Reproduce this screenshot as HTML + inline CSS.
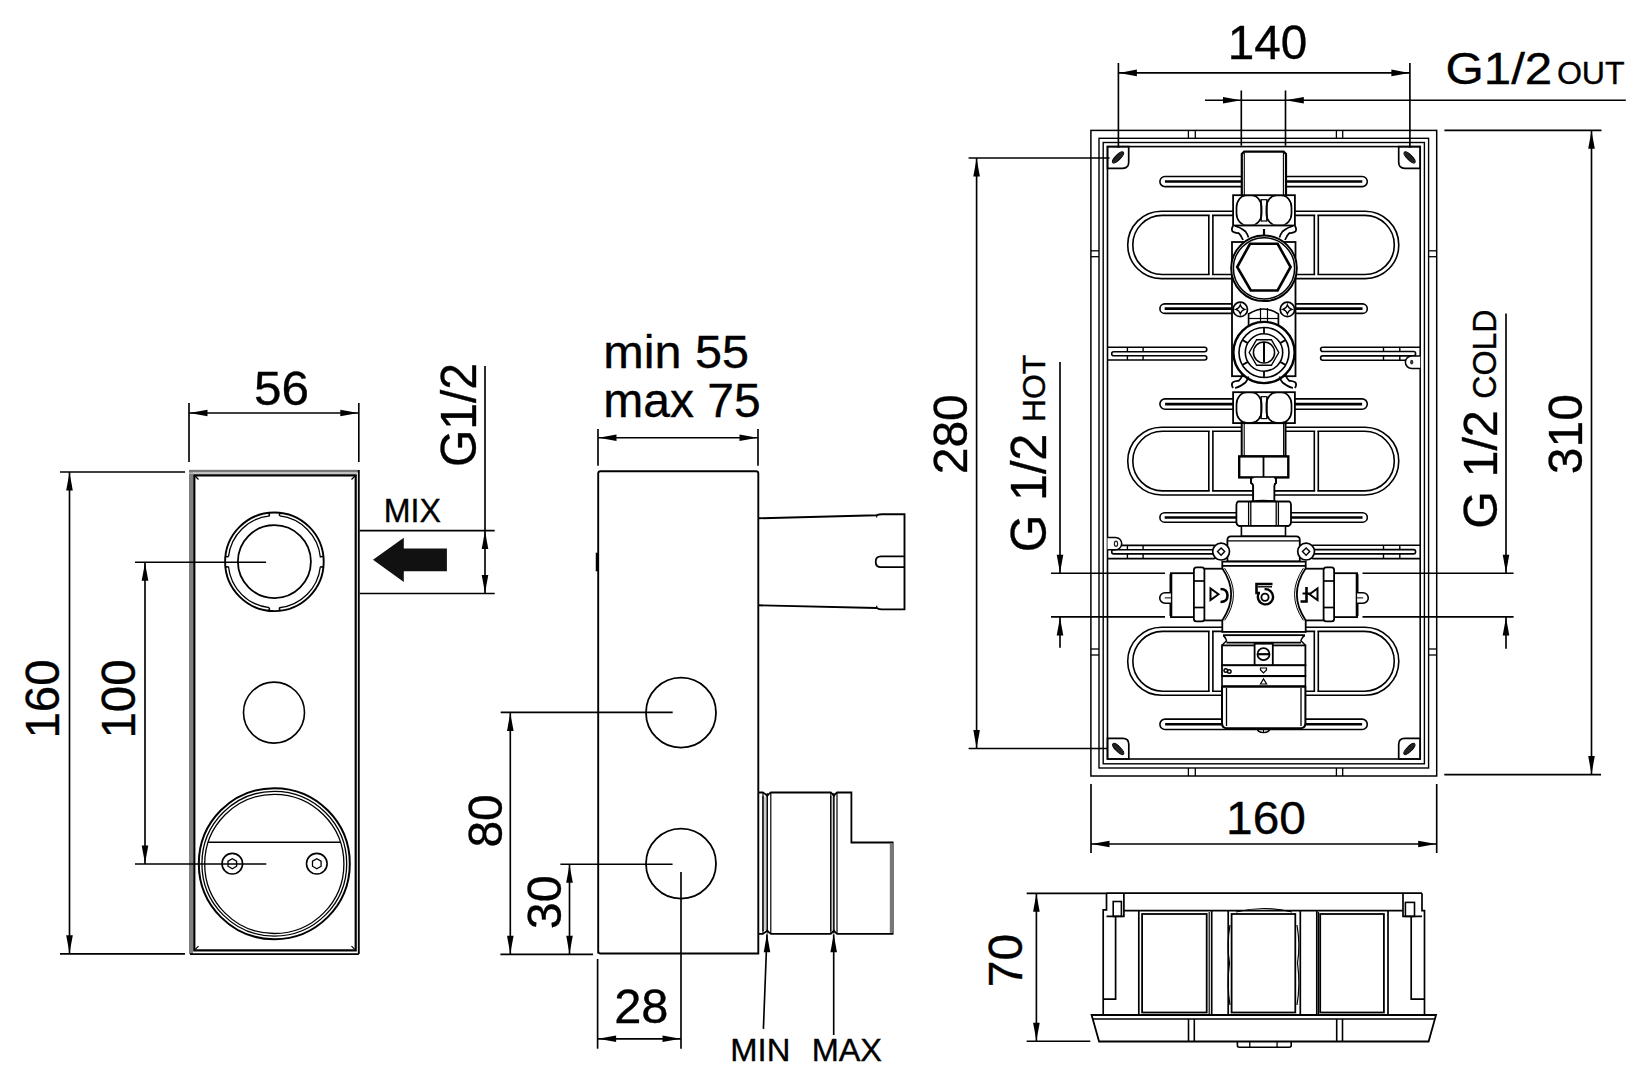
<!DOCTYPE html>
<html><head><meta charset="utf-8"><style>
html,body{margin:0;padding:0;background:#fff;}
svg{display:block;}
text{font-family:"Liberation Sans", sans-serif;fill:#000;stroke:#000;stroke-width:0.35px;}
</style></head><body>
<svg width="1650" height="1087" viewBox="0 0 1650 1087">
<rect x="0" y="0" width="1650" height="1087" fill="#fff"/>
<rect x="189" y="470" width="4" height="484" fill="#808080"/>
<rect x="189" y="469.8" width="169" height="2.6" fill="#777"/>
<rect x="189" y="472.4" width="168" height="1.5" fill="#bbb"/>
<path d="M194.3,475.3 H355.7 V950.4 H194.3 Z" fill="none" stroke="#000" stroke-width="2.2" />
<line x1="358.8" y1="470" x2="358.8" y2="954.1" stroke="#000" stroke-width="1.9"/>
<line x1="190" y1="954.1" x2="358.8" y2="954.1" stroke="#000" stroke-width="1.6"/>
<line x1="194.5" y1="475.5" x2="198.5" y2="479.5" stroke="#000" stroke-width="1.2"/>
<line x1="355.5" y1="475.5" x2="351.5" y2="479.5" stroke="#000" stroke-width="1.2"/>
<line x1="194.5" y1="950.2" x2="198.5" y2="946.2" stroke="#000" stroke-width="1.2"/>
<line x1="355.5" y1="950.2" x2="351.5" y2="946.2" stroke="#000" stroke-width="1.2"/>
<circle cx="274.4" cy="561.8" r="49.3" fill="none" stroke="#000" stroke-width="1.9"/>
<circle cx="274.4" cy="561.8" r="46.2" fill="none" stroke="#000" stroke-width="1.3" stroke-dasharray="62.57 10" stroke-dashoffset="67.57"/>
<circle cx="274.4" cy="561.6" r="36.5" fill="none" stroke="#000" stroke-width="1.8"/>
<line x1="320.329774535521" y1="556.8104297663817" x2="323.4116425238351" y2="556.4756317636931" stroke="#000" stroke-width="1.6"/>
<line x1="320.329774535521" y1="566.7895702336182" x2="323.4116425238351" y2="567.1243682363069" stroke="#000" stroke-width="1.6"/>
<line x1="279.38957023361826" y1="607.729774535521" x2="279.72436823630693" y2="610.8116425238351" stroke="#000" stroke-width="1.6"/>
<line x1="269.4104297663817" y1="607.729774535521" x2="269.075631763693" y2="610.8116425238351" stroke="#000" stroke-width="1.6"/>
<line x1="228.470225464479" y1="566.7895702336182" x2="225.38835747616483" y2="567.1243682363069" stroke="#000" stroke-width="1.6"/>
<line x1="228.470225464479" y1="556.8104297663817" x2="225.38835747616483" y2="556.4756317636931" stroke="#000" stroke-width="1.6"/>
<line x1="269.41042976638175" y1="515.870225464479" x2="269.0756317636931" y2="512.7883574761648" stroke="#000" stroke-width="1.6"/>
<line x1="279.3895702336182" y1="515.870225464479" x2="279.7243682363069" y2="512.7883574761648" stroke="#000" stroke-width="1.6"/>
<circle cx="274" cy="712.6" r="30.5" fill="none" stroke="#000" stroke-width="1.6"/>
<circle cx="274.3" cy="863.7" r="75.5" fill="none" stroke="#000" stroke-width="2"/>
<circle cx="274.3" cy="863.7" r="72.4" fill="none" stroke="#000" stroke-width="1.3"/>
<circle cx="274.3" cy="863.9" r="69.6" fill="none" stroke="#000" stroke-width="1.3"/>
<line x1="208" y1="842.2" x2="341" y2="842.2" stroke="#000" stroke-width="1.6"/>
<circle cx="232.3" cy="863.7" r="10.3" fill="none" stroke="#000" stroke-width="1.6"/>
<polygon points="236.6,866.2 232.3,868.7 228.0,866.2 228.0,861.2 232.3,858.7 236.6,861.2" fill="none" stroke="#000" stroke-width="1.3"/>
<circle cx="316.8" cy="863.7" r="10.3" fill="none" stroke="#000" stroke-width="1.6"/>
<polygon points="321.1,866.2 316.8,868.7 312.5,866.2 312.5,861.2 316.8,858.7 321.1,861.2" fill="none" stroke="#000" stroke-width="1.3"/>
<line x1="189" y1="403" x2="189" y2="462" stroke="#000" stroke-width="1.65"/>
<line x1="358.8" y1="403" x2="358.8" y2="462" stroke="#000" stroke-width="1.65"/>
<line x1="189" y1="413" x2="358.8" y2="413" stroke="#000" stroke-width="1.65"/>
<polygon points="189.5,413.0 207.5,409.7 207.5,416.3" fill="#000"/>
<polygon points="358.3,413.0 340.3,409.7 340.3,416.3" fill="#000"/>
<text transform="translate(254.02,404.52) scale(1.014,1)" font-size="48.73">56</text>
<line x1="60" y1="472" x2="185" y2="472" stroke="#000" stroke-width="1.65"/>
<line x1="60" y1="953.8" x2="185" y2="953.8" stroke="#000" stroke-width="1.65"/>
<line x1="69.5" y1="472" x2="69.5" y2="953.8" stroke="#000" stroke-width="1.65"/>
<polygon points="69.5,472.5 66.2,490.5 72.8,490.5" fill="#000"/>
<polygon points="69.5,953.3 66.2,935.3 72.8,935.3" fill="#000"/>
<text transform="translate(59.43,738.50) rotate(-90) scale(0.977,1)" font-size="48.45">160</text>
<line x1="135" y1="562.2" x2="266.1" y2="562.2" stroke="#000" stroke-width="1.65"/>
<line x1="135" y1="864" x2="266.3" y2="864" stroke="#000" stroke-width="1.65"/>
<line x1="145" y1="562.2" x2="145" y2="864" stroke="#000" stroke-width="1.65"/>
<polygon points="145.0,562.7 141.7,580.7 148.3,580.7" fill="#000"/>
<polygon points="145.0,863.5 141.7,845.5 148.3,845.5" fill="#000"/>
<text transform="translate(134.83,738.50) rotate(-90) scale(0.977,1)" font-size="48.45">100</text>
<line x1="359.6" y1="530.6" x2="494.7" y2="530.6" stroke="#000" stroke-width="1.65"/>
<line x1="359.6" y1="593.5" x2="494.7" y2="593.5" stroke="#000" stroke-width="1.65"/>
<line x1="485" y1="366" x2="485" y2="593.5" stroke="#000" stroke-width="1.65"/>
<polygon points="485.0,531.0 481.7,531.0 488.3,531.0" fill="#000"/>
<polygon points="485.0,531.0 481.7,549.0 488.3,549.0" fill="#000"/>
<polygon points="485.0,593.0 481.7,575.0 488.3,575.0" fill="#000"/>
<text transform="translate(476.02,466.91) rotate(-90) scale(0.969,1)" font-size="49.43">G1/2</text>
<text transform="translate(383.66,521.70) scale(0.984,1)" font-size="32.70">MIX</text>
<polygon points="373,559.8 403.8,537.8 403.8,548.6 446.9,548.6 446.9,571.3 403.8,571.3 403.8,582" fill="#111"/>
<path d="M598.2,953.5 V473.5 Q598.2,471.3 600.5,471.3 H756 Q758.3,471.3 758.3,473.5 V953.5 H600.5 Q598.2,953.5 598.2,951" fill="none" stroke="#000" stroke-width="1.9" />
<line x1="597" y1="552.7" x2="597" y2="571.3" stroke="#000" stroke-width="2.5"/>
<path d="M758.3,518.3 L876.7,515.2 Q879,514.2 882,514.2 H904.5 V609.4 H882 Q879,609.4 876.7,608 L758.3,605.3" fill="none" stroke="#000" stroke-width="1.9" />
<line x1="876.7" y1="515.2" x2="876.7" y2="517.5" stroke="#000" stroke-width="1.2"/>
<line x1="876.7" y1="608" x2="876.7" y2="605.7" stroke="#000" stroke-width="1.2"/>
<path d="M904.5,556.4 H881 Q875.7,556.4 875.7,561.7 Q875.7,567.1 881,567.1 H904.5" fill="none" stroke="#000" stroke-width="1.8" />
<circle cx="681" cy="712.7" r="35" fill="none" stroke="#000" stroke-width="1.8"/>
<circle cx="681" cy="863.7" r="35" fill="none" stroke="#000" stroke-width="1.8"/>
<path d="M758.4,792.5 H763 Q765,793.5 767.2,796 Q769,793.5 770.8,792.5 H830.8 Q832.3,793.5 833.8,796 Q835.5,793.5 837,792.5 H851.4 V842.5 H892.6 V933.8 H837 Q835.5,932.8 833.8,930.5 Q832.3,932.8 830.8,933.8 H770.8 Q769,932.8 767.2,930.5 Q765,932.8 763,933.8 H758.4" fill="none" stroke="#000" stroke-width="1.8" />
<line x1="763" y1="793" x2="763" y2="933.5" stroke="#000" stroke-width="1.2"/>
<line x1="767.2" y1="793" x2="767.2" y2="933.5" stroke="#000" stroke-width="1.2"/>
<line x1="770.8" y1="793" x2="770.8" y2="933.5" stroke="#000" stroke-width="1.2"/>
<line x1="830.8" y1="793" x2="830.8" y2="933.5" stroke="#000" stroke-width="1.2"/>
<line x1="833.8" y1="793" x2="833.8" y2="933.5" stroke="#000" stroke-width="1.2"/>
<line x1="837" y1="793" x2="837" y2="933.5" stroke="#000" stroke-width="1.2"/>
<rect x="889.8" y="843.2" width="4.2" height="89.6" fill="#777"/>
<rect x="763.6" y="797" width="3" height="133" fill="#ccc"/>
<rect x="831.4" y="797" width="2" height="133" fill="#ccc"/>
<line x1="763" y1="796" x2="763" y2="931" stroke="#000" stroke-width="1.2"/>
<line x1="767.2" y1="796" x2="767.2" y2="931" stroke="#000" stroke-width="1.2"/>
<line x1="830.8" y1="796" x2="830.8" y2="931" stroke="#000" stroke-width="1.2"/>
<line x1="833.8" y1="796" x2="833.8" y2="931" stroke="#000" stroke-width="1.2"/>
<line x1="598" y1="429" x2="598" y2="465.7" stroke="#000" stroke-width="1.65"/>
<line x1="758" y1="429" x2="758" y2="465.7" stroke="#000" stroke-width="1.65"/>
<line x1="598" y1="437.7" x2="758" y2="437.7" stroke="#000" stroke-width="1.65"/>
<polygon points="598.5,437.7 616.5,434.4 616.5,441.0" fill="#000"/>
<polygon points="757.5,437.7 739.5,434.4 739.5,441.0" fill="#000"/>
<text transform="translate(603.28,368.15) scale(1.052,1)" font-size="46.16">min 55</text>
<text transform="translate(603.31,417.44) scale(1.009,1)" font-size="47.58">max 75</text>
<line x1="500.7" y1="712.4" x2="672.7" y2="712.4" stroke="#000" stroke-width="1.65"/>
<line x1="500.4" y1="954.3" x2="593" y2="954.3" stroke="#000" stroke-width="1.65"/>
<line x1="560.4" y1="864.2" x2="672.6" y2="864.2" stroke="#000" stroke-width="1.65"/>
<line x1="510.3" y1="712.4" x2="510.3" y2="954.3" stroke="#000" stroke-width="1.65"/>
<polygon points="510.3,712.9 507.0,730.9 513.6,730.9" fill="#000"/>
<polygon points="510.3,953.8 507.0,935.8 513.6,935.8" fill="#000"/>
<line x1="569.5" y1="864.2" x2="569.5" y2="954.3" stroke="#000" stroke-width="1.65"/>
<polygon points="569.5,864.7 566.2,882.7 572.8,882.7" fill="#000"/>
<polygon points="569.5,953.8 566.2,935.8 572.8,935.8" fill="#000"/>
<text transform="translate(501.52,847.58) rotate(-90) scale(0.977,1)" font-size="49.01">80</text>
<text transform="translate(560.52,929.14) rotate(-90) scale(0.990,1)" font-size="48.87">30</text>
<line x1="681" y1="872" x2="681" y2="1048.7" stroke="#000" stroke-width="1.65"/>
<line x1="597.6" y1="959" x2="597.6" y2="1048.7" stroke="#000" stroke-width="1.65"/>
<line x1="597.6" y1="1038.8" x2="681" y2="1038.8" stroke="#000" stroke-width="1.65"/>
<polygon points="598.1,1038.8 616.1,1035.5 616.1,1042.1" fill="#000"/>
<polygon points="680.5,1038.8 662.5,1035.5 662.5,1042.1" fill="#000"/>
<text transform="translate(614.25,1023.44) scale(1.028,1)" font-size="47.46">28</text>
<line x1="763.4" y1="1028.9" x2="767" y2="934.3" stroke="#000" stroke-width="1.65"/>
<polygon points="767.0,934.3 763.7,952.3 770.3,952.3" fill="#000"/>
<line x1="833.7" y1="1035" x2="833.7" y2="934.3" stroke="#000" stroke-width="1.65"/>
<polygon points="833.7,934.3 830.4,952.3 837.0,952.3" fill="#000"/>
<text transform="translate(730.31,1060.70) scale(1.029,1)" font-size="31.83">MIN</text>
<text transform="translate(811.63,1060.70) scale(1.021,1)" font-size="31.83">MAX</text>
<rect x="1090.9" y="130.4" width="345.8" height="645.6" rx="0" fill="none" stroke="#000" stroke-width="1.5"/>
<rect x="1099" y="138.3" width="329.6" height="629.7" rx="0" fill="none" stroke="#000" stroke-width="1.4"/>
<rect x="1103.2" y="142.5" width="321.2" height="621.3" rx="0" fill="none" stroke="#000" stroke-width="1.4"/>
<rect x="1107.5" y="146.6" width="312.7" height="612.4" rx="0" fill="none" stroke="#000" stroke-width="1.6"/>
<line x1="1188.4" y1="130.4" x2="1188.4" y2="138.3" stroke="#000" stroke-width="1.3"/>
<line x1="1188.4" y1="768" x2="1188.4" y2="776" stroke="#000" stroke-width="1.3"/>
<line x1="1195.3" y1="130.4" x2="1195.3" y2="138.3" stroke="#000" stroke-width="1.3"/>
<line x1="1195.3" y1="768" x2="1195.3" y2="776" stroke="#000" stroke-width="1.3"/>
<line x1="1336.4" y1="130.4" x2="1336.4" y2="138.3" stroke="#000" stroke-width="1.3"/>
<line x1="1336.4" y1="768" x2="1336.4" y2="776" stroke="#000" stroke-width="1.3"/>
<line x1="1342.7" y1="130.4" x2="1342.7" y2="138.3" stroke="#000" stroke-width="1.3"/>
<line x1="1342.7" y1="768" x2="1342.7" y2="776" stroke="#000" stroke-width="1.3"/>
<line x1="1090.9" y1="250.8" x2="1099" y2="250.8" stroke="#000" stroke-width="1.3"/>
<line x1="1428.6" y1="250.8" x2="1436.7" y2="250.8" stroke="#000" stroke-width="1.3"/>
<line x1="1090.9" y1="256.7" x2="1099" y2="256.7" stroke="#000" stroke-width="1.3"/>
<line x1="1428.6" y1="256.7" x2="1436.7" y2="256.7" stroke="#000" stroke-width="1.3"/>
<line x1="1090.9" y1="649" x2="1099" y2="649" stroke="#000" stroke-width="1.3"/>
<line x1="1428.6" y1="649" x2="1436.7" y2="649" stroke="#000" stroke-width="1.3"/>
<line x1="1090.9" y1="655" x2="1099" y2="655" stroke="#000" stroke-width="1.3"/>
<line x1="1428.6" y1="655" x2="1436.7" y2="655" stroke="#000" stroke-width="1.3"/>
<path d="M1107.5,146.6 H1128.7 V162.3 Q1128.7,168.3 1122.7,168.3 H1107.5 Z" fill="none" stroke="#000" stroke-width="1.7" />
<ellipse cx="1118" cy="157.3" rx="7.4" ry="2.5" transform="rotate(-45 1118 157.3)" fill="#222" stroke="#000" stroke-width="1"/>
<path d="M1398.7,146.6 H1420.2 V168.3 H1404.7 Q1398.7,168.3 1398.7,162.3 Z" fill="none" stroke="#000" stroke-width="1.7" />
<ellipse cx="1409.6" cy="157.3" rx="7.4" ry="2.5" transform="rotate(45 1409.6 157.3)" fill="#222" stroke="#000" stroke-width="1"/>
<path d="M1107.5,738.4 H1122.8 Q1128.8,738.4 1128.8,744.4 V759 H1107.5 Z" fill="none" stroke="#000" stroke-width="1.7" />
<ellipse cx="1118.2" cy="749" rx="7.4" ry="2.5" transform="rotate(45 1118.2 749)" fill="#222" stroke="#000" stroke-width="1"/>
<path d="M1404.7,738.4 H1420.2 V759 H1398.7 V744.4 Q1398.7,738.4 1404.7,738.4 Z" fill="none" stroke="#000" stroke-width="1.7" />
<ellipse cx="1409.4" cy="749" rx="7.4" ry="2.5" transform="rotate(-45 1409.4 749)" fill="#222" stroke="#000" stroke-width="1"/>
<path d="M1161.3500000000001,211.3 H1365.1499999999999 A33.650000000000006,33.650000000000006 0 0 1 1365.1499999999999,278.6 H1161.3500000000001 A33.650000000000006,33.650000000000006 0 0 1 1161.3500000000001,211.3 Z" fill="none" stroke="#000" stroke-width="1.6" />
<path d="M1162.35,215.4 H1364.75 A29.549999999999997,29.549999999999997 0 0 1 1364.75,274.5 H1162.35 A29.549999999999997,29.549999999999997 0 0 1 1162.35,215.4 Z" fill="none" stroke="#000" stroke-width="1.6" />
<rect x="1209.7" y="213.9" width="2.3000000000001366" height="62.099999999999994" fill="#fff"/>
<line x1="1208.8" y1="215.4" x2="1208.8" y2="274.5" stroke="#000" stroke-width="1.6"/>
<line x1="1212.9" y1="215.4" x2="1212.9" y2="274.5" stroke="#000" stroke-width="1.6"/>
<rect x="1315.2" y="213.9" width="2.2" height="62.099999999999994" fill="#fff"/>
<line x1="1314.3" y1="215.4" x2="1314.3" y2="274.5" stroke="#000" stroke-width="1.6"/>
<line x1="1318.3" y1="215.4" x2="1318.3" y2="274.5" stroke="#000" stroke-width="1.6"/>
<path d="M1161.6000000000001,427.2 H1364.8999999999999 A33.900000000000006,33.900000000000006 0 0 1 1364.8999999999999,495.0 H1161.6000000000001 A33.900000000000006,33.900000000000006 0 0 1 1161.6000000000001,427.2 Z" fill="none" stroke="#000" stroke-width="1.6" />
<path d="M1162.6,431.3 H1364.5 A29.799999999999983,29.799999999999983 0 0 1 1364.5,490.9 H1162.6 A29.799999999999983,29.799999999999983 0 0 1 1162.6,431.3 Z" fill="none" stroke="#000" stroke-width="1.6" />
<rect x="1209.7" y="429.8" width="2.3000000000001366" height="62.599999999999966" fill="#fff"/>
<line x1="1208.8" y1="431.3" x2="1208.8" y2="490.9" stroke="#000" stroke-width="1.6"/>
<line x1="1212.9" y1="431.3" x2="1212.9" y2="490.9" stroke="#000" stroke-width="1.6"/>
<rect x="1315.2" y="429.8" width="2.2" height="62.599999999999966" fill="#fff"/>
<line x1="1314.3" y1="431.3" x2="1314.3" y2="490.9" stroke="#000" stroke-width="1.6"/>
<line x1="1318.3" y1="431.3" x2="1318.3" y2="490.9" stroke="#000" stroke-width="1.6"/>
<path d="M1161.7,627.3 H1364.8 A34.0,34.0 0 0 1 1364.8,695.3 H1161.7 A34.0,34.0 0 0 1 1161.7,627.3 Z" fill="none" stroke="#000" stroke-width="1.6" />
<path d="M1162.6999999999998,631.4 H1364.4 A29.899999999999977,29.899999999999977 0 0 1 1364.4,691.1999999999999 H1162.6999999999998 A29.899999999999977,29.899999999999977 0 0 1 1162.6999999999998,631.4 Z" fill="none" stroke="#000" stroke-width="1.6" />
<rect x="1209.7" y="629.9" width="2.3000000000001366" height="62.799999999999955" fill="#fff"/>
<line x1="1208.8" y1="631.4" x2="1208.8" y2="691.1999999999999" stroke="#000" stroke-width="1.6"/>
<line x1="1212.9" y1="631.4" x2="1212.9" y2="691.1999999999999" stroke="#000" stroke-width="1.6"/>
<rect x="1315.2" y="629.9" width="2.2" height="62.799999999999955" fill="#fff"/>
<line x1="1314.3" y1="631.4" x2="1314.3" y2="691.1999999999999" stroke="#000" stroke-width="1.6"/>
<line x1="1318.3" y1="631.4" x2="1318.3" y2="691.1999999999999" stroke="#000" stroke-width="1.6"/>
<path d="M1164.95,176.5 H1362.25 A5.049999999999997,5.049999999999997 0 0 1 1362.25,186.6 H1164.95 A5.049999999999997,5.049999999999997 0 0 1 1164.95,176.5 Z" fill="none" stroke="#000" stroke-width="1.6" />
<line x1="1164.95" y1="181.55" x2="1362.25" y2="181.55" stroke="#000" stroke-width="2.6"/>
<path d="M1164.65,303.9 H1362.55 A4.75,4.75 0 0 1 1362.55,313.4 H1164.65 A4.75,4.75 0 0 1 1164.65,303.9 Z" fill="none" stroke="#000" stroke-width="1.6" />
<line x1="1164.65" y1="308.65" x2="1362.55" y2="308.65" stroke="#000" stroke-width="2.6"/>
<path d="M1165.1000000000001,398.9 H1362.1 A5.200000000000017,5.200000000000017 0 0 1 1362.1,409.3 H1165.1000000000001 A5.200000000000017,5.200000000000017 0 0 1 1165.1000000000001,398.9 Z" fill="none" stroke="#000" stroke-width="1.6" />
<line x1="1165.1000000000001" y1="404.1" x2="1362.1" y2="404.1" stroke="#000" stroke-width="2.6"/>
<path d="M1164.65,512.7 H1362.55 A4.75,4.75 0 0 1 1362.55,522.2 H1164.65 A4.75,4.75 0 0 1 1164.65,512.7 Z" fill="none" stroke="#000" stroke-width="1.6" />
<line x1="1164.65" y1="517.45" x2="1362.55" y2="517.45" stroke="#000" stroke-width="2.6"/>
<path d="M1165.1000000000001,719.1 H1362.1 A5.199999999999989,5.199999999999989 0 0 1 1362.1,729.5 H1165.1000000000001 A5.199999999999989,5.199999999999989 0 0 1 1165.1000000000001,719.1 Z" fill="none" stroke="#000" stroke-width="1.6" />
<line x1="1165.1000000000001" y1="724.3" x2="1362.1" y2="724.3" stroke="#000" stroke-width="2.6"/>
<path d="M1107.5,347.2 H1204.55 A2.25,2.25 0 0 1 1204.55,351.7 H1113.7 Q1111.7,351.7 1111.7,353.7 Q1111.7,355.7 1113.7,355.7 H1204.6499999999999 A2.1500000000000057,2.1500000000000057 0 0 1 1204.6499999999999,360.0 H1107.5" fill="none" stroke="#000" stroke-width="1.6" />
<line x1="1127.4" y1="347.2" x2="1127.4" y2="351.7" stroke="#000" stroke-width="1.4"/>
<line x1="1127.4" y1="355.7" x2="1127.4" y2="360.0" stroke="#000" stroke-width="1.4"/>
<line x1="1143.1" y1="347.2" x2="1143.1" y2="351.7" stroke="#000" stroke-width="1.4"/>
<line x1="1143.1" y1="355.7" x2="1143.1" y2="360.0" stroke="#000" stroke-width="1.4"/>
<path d="M1420.2,347.2 H1322.75 A2.1500000000000057,2.1500000000000057 0 0 0 1322.75,351.5 H1413.6 Q1415.6,351.5 1415.6,353.7 Q1415.6,355.9 1413.6,355.9 H1322.75 A2.1500000000000057,2.1500000000000057 0 0 0 1322.75,360.2 H1420.2" fill="none" stroke="#000" stroke-width="1.6" />
<line x1="1383.5" y1="347.2" x2="1383.5" y2="351.5" stroke="#000" stroke-width="1.4"/>
<line x1="1383.5" y1="355.9" x2="1383.5" y2="360.2" stroke="#000" stroke-width="1.4"/>
<line x1="1399.8" y1="347.2" x2="1399.8" y2="351.5" stroke="#000" stroke-width="1.4"/>
<line x1="1399.8" y1="355.9" x2="1399.8" y2="360.2" stroke="#000" stroke-width="1.4"/>
<path d="M1107.5,545.4 H1213.85 A2.150000000000034,2.150000000000034 0 0 1 1213.85,549.7 H1113.7 Q1111.7,549.7 1111.7,551.8 Q1111.7,553.9 1113.7,553.9 H1213.65 A2.3500000000000227,2.3500000000000227 0 0 1 1213.65,558.6 H1107.5" fill="none" stroke="#000" stroke-width="1.6" />
<line x1="1127.4" y1="545.4" x2="1127.4" y2="549.7" stroke="#000" stroke-width="1.4"/>
<line x1="1127.4" y1="553.9" x2="1127.4" y2="558.6" stroke="#000" stroke-width="1.4"/>
<line x1="1143.1" y1="545.4" x2="1143.1" y2="549.7" stroke="#000" stroke-width="1.4"/>
<line x1="1143.1" y1="553.9" x2="1143.1" y2="558.6" stroke="#000" stroke-width="1.4"/>
<path d="M1420.2,545.2 H1313.2 A2.1999999999999886,2.1999999999999886 0 0 0 1313.2,549.6 H1413.6 Q1415.6,549.6 1415.6,551.75 Q1415.6,553.9 1413.6,553.9 H1313.35 A2.3500000000000227,2.3500000000000227 0 0 0 1313.35,558.6 H1420.2" fill="none" stroke="#000" stroke-width="1.6" />
<line x1="1383.5" y1="545.2" x2="1383.5" y2="549.6" stroke="#000" stroke-width="1.4"/>
<line x1="1383.5" y1="553.9" x2="1383.5" y2="558.6" stroke="#000" stroke-width="1.4"/>
<line x1="1399.8" y1="545.2" x2="1399.8" y2="549.6" stroke="#000" stroke-width="1.4"/>
<line x1="1399.8" y1="553.9" x2="1399.8" y2="558.6" stroke="#000" stroke-width="1.4"/>
<path d="M1420.2,355.9 H1411.7 A6.3,6.3 0 0 0 1411.7,368.5 H1420.2" fill="#fff" stroke="#000" stroke-width="1.5" />
<ellipse cx="1411.7" cy="362.2" rx="1.6" ry="2.4" fill="#333"/>
<path d="M1107.5,537.4 H1115.5 A6.2,6.2 0 0 1 1115.5,549.8 H1107.5" fill="#fff" stroke="#000" stroke-width="1.5" />
<ellipse cx="1116" cy="543.8" rx="1.6" ry="2.6" fill="none" stroke="#222" stroke-width="1.2"/>
<path d="M1241.8,196 V154 L1244.2,151.6 H1283.6 L1286,154 V196" fill="#fff" stroke="#000" stroke-width="2.2" />
<line x1="1244.3" y1="153" x2="1244.3" y2="195" stroke="#000" stroke-width="1.1"/>
<line x1="1283.4" y1="153" x2="1283.4" y2="195" stroke="#000" stroke-width="1.1"/>
<rect x="1233.1" y="195.2" width="61.80000000000018" height="30.30000000000001" rx="0" fill="#fff" stroke="#000" stroke-width="1.8"/>
<clipPath id="cl195"><rect x="1233.1" y="196.0" width="61.80000000000018" height="28.70000000000001"/></clipPath>
<g clip-path="url(#cl195)"><rect x="1236.5" y="195.5" width="25.1" height="29.70000000000001" rx="10" ry="12" fill="#fff" stroke="#000" stroke-width="1.7"/><rect x="1266.4" y="195.5" width="25.1" height="29.70000000000001" rx="10" ry="12" fill="#fff" stroke="#000" stroke-width="1.7"/></g>
<line x1="1261.1" y1="199.2" x2="1261.1" y2="221.5" stroke="#000" stroke-width="1.5"/>
<line x1="1266.9" y1="199.2" x2="1266.9" y2="221.5" stroke="#000" stroke-width="1.5"/>
<line x1="1261.2" y1="199.7" x2="1266.8" y2="199.7" stroke="#000" stroke-width="1.2"/>
<line x1="1261.2" y1="221.0" x2="1266.8" y2="221.0" stroke="#000" stroke-width="1.2"/>
<path d="M1233,226 Q1231,229 1232.5,231.5 Q1236,233.5 1238.5,233 Q1241,235 1243,240" fill="none" stroke="#000" stroke-width="1.7" />
<path d="M1235,226 Q1240,227 1245.5,231.5 Q1248,235 1248.5,237.5" fill="none" stroke="#000" stroke-width="1.7" />
<path d="M1295,226 Q1297,229 1295.5,231.5 Q1292,233.5 1289.5,233 Q1287,235 1285,240" fill="none" stroke="#000" stroke-width="1.7" />
<path d="M1293,226 Q1288,227 1282.5,231.5 Q1280,235 1279.5,237.5" fill="none" stroke="#000" stroke-width="1.7" />
<line x1="1264" y1="229" x2="1264" y2="236" stroke="#000" stroke-width="2.2"/>
<rect x="1232" y="242" width="63.5" height="134.2" rx="0" fill="#fff" stroke="#000" stroke-width="1.8"/>
<circle cx="1264" cy="268.3" r="32.8" fill="#fff" stroke="#000" stroke-width="2.0"/>
<circle cx="1264" cy="268.3" r="30.6" fill="none" stroke="#000" stroke-width="1.5"/>
<polygon points="1237.2,267 1250,243.8 1277.6,243.8 1290.6,267 1277.6,290.5 1250.8,290.5" fill="none" stroke="#000" stroke-width="2.6"/>
<path d="M1248.6,326 V314 Q1264,304 1278.4,314 V326" fill="#fff" stroke="#000" stroke-width="1.7" />
<line x1="1249" y1="318.5" x2="1278" y2="318.5" stroke="#000" stroke-width="1.2"/>
<line x1="1260.5" y1="308" x2="1260.5" y2="325" stroke="#000" stroke-width="1.2"/>
<line x1="1267.5" y1="308" x2="1267.5" y2="325" stroke="#000" stroke-width="1.2"/>
<circle cx="1240.3" cy="309.4" r="7.2" fill="#fff" stroke="#000" stroke-width="1.7"/>
<path d="M1235.8,309.4 Q1239.3,308.4 1240.3,304.9 Q1241.3,308.4 1244.8,309.4 Q1241.3,310.4 1240.3,313.9 Q1239.3,310.4 1235.8,309.4 Z" fill="none" stroke="#000" stroke-width="1.3" />
<circle cx="1287.4" cy="309.4" r="7.2" fill="#fff" stroke="#000" stroke-width="1.7"/>
<path d="M1282.9,309.4 Q1286.4,308.4 1287.4,304.9 Q1288.4,308.4 1291.9,309.4 Q1288.4,310.4 1287.4,313.9 Q1286.4,310.4 1282.9,309.4 Z" fill="none" stroke="#000" stroke-width="1.3" />
<circle cx="1264" cy="352.5" r="30.6" fill="#fff" stroke="#000" stroke-width="2.4"/>
<circle cx="1264" cy="352.5" r="25" fill="none" stroke="#000" stroke-width="1.6"/>
<circle cx="1264" cy="352.5" r="18.7" fill="none" stroke="#000" stroke-width="1.6"/>
<polygon points="1278.80,352.50 1271.40,365.32 1256.60,365.32 1249.20,352.50 1256.60,339.68 1271.40,339.68" fill="none" stroke="#000" stroke-width="1.4"/>
<circle cx="1264" cy="352.5" r="10.6" fill="none" stroke="#000" stroke-width="1.5"/>
<line x1="1264" y1="342" x2="1264" y2="362" stroke="#000" stroke-width="2.0"/>
<line x1="1264.0" y1="371.2" x2="1264.0" y2="377.5" stroke="#000" stroke-width="1.8"/>
<line x1="1264.0" y1="333.8" x2="1264.0" y2="327.5" stroke="#000" stroke-width="1.8"/>
<line x1="1280.194675050769" y1="361.85" x2="1285.650635094611" y2="365.0" stroke="#000" stroke-width="1.8"/>
<line x1="1247.805324949231" y1="361.85" x2="1242.349364905389" y2="365.0" stroke="#000" stroke-width="1.8"/>
<line x1="1247.805324949231" y1="343.15" x2="1242.349364905389" y2="340.0" stroke="#000" stroke-width="1.8"/>
<line x1="1280.194675050769" y1="343.15" x2="1285.650635094611" y2="340.0" stroke="#000" stroke-width="1.8"/>
<path d="M1233,388 Q1231,385 1232.5,382.5 Q1236,380.5 1238.5,381 Q1241,379 1243,374" fill="none" stroke="#000" stroke-width="1.7" />
<path d="M1235,388 Q1240,387 1245.5,382.5 Q1248,379 1248.5,376.5" fill="none" stroke="#000" stroke-width="1.7" />
<path d="M1295,388 Q1297,385 1295.5,382.5 Q1292,380.5 1289.5,381 Q1287,379 1285,374" fill="none" stroke="#000" stroke-width="1.7" />
<path d="M1293,388 Q1288,387 1282.5,382.5 Q1280,379 1279.5,376.5" fill="none" stroke="#000" stroke-width="1.7" />
<rect x="1233.1" y="392.2" width="61.80000000000018" height="30.900000000000034" rx="0" fill="#fff" stroke="#000" stroke-width="1.8"/>
<clipPath id="cl392"><rect x="1233.1" y="393.0" width="61.80000000000018" height="29.300000000000033"/></clipPath>
<g clip-path="url(#cl392)"><rect x="1236.5" y="392.5" width="25.1" height="30.300000000000033" rx="10" ry="12" fill="#fff" stroke="#000" stroke-width="1.7"/><rect x="1266.4" y="392.5" width="25.1" height="30.300000000000033" rx="10" ry="12" fill="#fff" stroke="#000" stroke-width="1.7"/></g>
<line x1="1261.1" y1="396.2" x2="1261.1" y2="419.1" stroke="#000" stroke-width="1.5"/>
<line x1="1266.9" y1="396.2" x2="1266.9" y2="419.1" stroke="#000" stroke-width="1.5"/>
<line x1="1261.2" y1="396.7" x2="1266.8" y2="396.7" stroke="#000" stroke-width="1.2"/>
<line x1="1261.2" y1="418.6" x2="1266.8" y2="418.6" stroke="#000" stroke-width="1.2"/>
<rect x="1241.7" y="423.1" width="43.8" height="33.3" rx="0" fill="#fff" stroke="#000" stroke-width="2.0"/>
<line x1="1244.2" y1="424" x2="1244.2" y2="456" stroke="#000" stroke-width="1.1"/>
<line x1="1283.6" y1="424" x2="1283.6" y2="456" stroke="#000" stroke-width="1.1"/>
<rect x="1239.2" y="456.4" width="49.1" height="21" rx="0" fill="#fff" stroke="#000" stroke-width="2.4"/>
<line x1="1263.5" y1="456.4" x2="1263.5" y2="477.4" stroke="#000" stroke-width="1.8"/>
<path d="M1251,477.4 V483 Q1253.2,484 1253.2,486 V501 M1276,477.4 V483 Q1274.3,484 1274.3,486 V501" fill="none" stroke="#000" stroke-width="1.7" />
<rect x="1253.5" y="477.8" width="20.5" height="23" fill="#fff"/>
<path d="M1251,477.4 V483 Q1253.2,484 1253.2,486 V501 M1276,477.4 V483 Q1274.3,484 1274.3,486 V501" fill="none" stroke="#000" stroke-width="1.7" />
<path d="M1238,501.5 Q1236.4,502.5 1236.4,505 V522 Q1236.4,525 1239,526 H1288.5 Q1291,525 1291,522 V505 Q1291,502.5 1289.5,501.5 Z" fill="#fff" stroke="#000" stroke-width="1.8" />
<line x1="1248.6" y1="501.5" x2="1248.6" y2="526" stroke="#000" stroke-width="1.3"/>
<line x1="1250.8" y1="501.5" x2="1250.8" y2="526" stroke="#000" stroke-width="1.3"/>
<line x1="1276.2" y1="501.5" x2="1276.2" y2="526" stroke="#000" stroke-width="1.3"/>
<line x1="1278.4" y1="501.5" x2="1278.4" y2="526" stroke="#000" stroke-width="1.3"/>
<path d="M1250.8,501.5 Q1263.5,499.5 1276.2,501.5 M1250.8,526 Q1263.5,528 1276.2,526" fill="none" stroke="#000" stroke-width="1.3" />
<rect x="1241.4" y="526" width="44.1" height="10.3" rx="0" fill="#fff" stroke="#000" stroke-width="1.6"/>
<path d="M1227.4,561.6 V540 Q1227.4,536.3 1231,536.3 H1296.2 Q1299.8,536.3 1299.8,540 V561.6" fill="#fff" stroke="#000" stroke-width="1.8" />
<line x1="1228" y1="540.8" x2="1299" y2="540.8" stroke="#000" stroke-width="1.3"/>
<line x1="1227.4" y1="561.6" x2="1299.8" y2="561.6" stroke="#000" stroke-width="2.0"/>
<circle cx="1221.1" cy="551.6" r="8.4" fill="#fff" stroke="#000" stroke-width="1.7"/>
<path d="M1217.5,551.6 L1221.1,548.0 L1224.6999999999998,551.6 L1221.1,555.2 Z" fill="none" stroke="#000" stroke-width="1.4" />
<circle cx="1306.1" cy="551.6" r="8.4" fill="#fff" stroke="#000" stroke-width="1.7"/>
<path d="M1302.5,551.6 L1306.1,548.0 L1309.6999999999998,551.6 L1306.1,555.2 Z" fill="none" stroke="#000" stroke-width="1.4" />
<rect x="1204.4" y="568.7" width="26.59999999999991" height="51.7" fill="#fff"/>
<line x1="1204.4" y1="568.7" x2="1231" y2="568.7" stroke="#000" stroke-width="1.8"/>
<line x1="1204.4" y1="620.4" x2="1231" y2="620.4" stroke="#000" stroke-width="1.8"/>
<rect x="1170.9" y="573.2" width="23.0" height="43.9" rx="0" fill="#fff" stroke="#000" stroke-width="1.8"/>
<line x1="1170.9" y1="574" x2="1170.9" y2="616" stroke="#000" stroke-width="2.8"/>
<path d="M1193.9,570 Q1193.9,567.4 1196.4,567.4 H1201.9 Q1204.4,567.4 1204.4,570 V619 Q1204.4,621.3 1201.9,621.3 H1196.4 Q1193.9,621.3 1193.9,619 Z" fill="#fff" stroke="#000" stroke-width="1.8" />
<line x1="1193.9" y1="581" x2="1204.4" y2="581" stroke="#000" stroke-width="1.7"/>
<line x1="1193.9" y1="607.5" x2="1204.4" y2="607.5" stroke="#000" stroke-width="1.7"/>
<path d="M1170.9,592.7 H1165.0 A5.2,5.2 0 0 0 1165.0,603.2 H1170.9" fill="#fff" stroke="#000" stroke-width="1.6" />
<line x1="1164.8" y1="597.9" x2="1170.9" y2="597.9" stroke="#000" stroke-width="1.0"/>
<rect x="1297" y="568.7" width="26.59999999999991" height="51.7" fill="#fff"/>
<line x1="1297" y1="568.7" x2="1323.6" y2="568.7" stroke="#000" stroke-width="1.8"/>
<line x1="1297" y1="620.4" x2="1323.6" y2="620.4" stroke="#000" stroke-width="1.8"/>
<rect x="1334.1" y="573.2" width="23.0" height="43.9" rx="0" fill="#fff" stroke="#000" stroke-width="1.8"/>
<line x1="1357.1" y1="574" x2="1357.1" y2="616" stroke="#000" stroke-width="2.8"/>
<path d="M1323.6,570 Q1323.6,567.4 1326.1,567.4 H1331.6 Q1334.1,567.4 1334.1,570 V619 Q1334.1,621.3 1331.6,621.3 H1326.1 Q1323.6,621.3 1323.6,619 Z" fill="#fff" stroke="#000" stroke-width="1.8" />
<line x1="1323.6" y1="581" x2="1334.1" y2="581" stroke="#000" stroke-width="1.7"/>
<line x1="1323.6" y1="607.5" x2="1334.1" y2="607.5" stroke="#000" stroke-width="1.7"/>
<path d="M1357.1,592.7 H1363.0 A5.2,5.2 0 0 1 1363.0,603.2 H1357.1" fill="#fff" stroke="#000" stroke-width="1.6" />
<line x1="1363.2" y1="597.9" x2="1357.1" y2="597.9" stroke="#000" stroke-width="1.0"/>
<path d="M1222.3,561.6 V568.2 Q1240,594.3 1222.3,620.4 V631.8 H1305.7 V620.4 Q1288,594.3 1305.7,568.2 V561.6 Z" fill="#fff" stroke="#000" stroke-width="1.8" />
<path d="M1224.6,568.2 Q1242.3,594.3 1224.6,620.4 M1303.4,568.2 Q1285.7,594.3 1303.4,620.4" fill="none" stroke="#000" stroke-width="1.0" />
<line x1="1223" y1="565.8" x2="1305" y2="565.8" stroke="#000" stroke-width="1.7"/>
<line x1="1223" y1="635.3" x2="1305" y2="635.3" stroke="#000" stroke-width="1.9"/>
<path d="M1210.5,588.5 V600 L1218.5,594.2 Z" fill="none" stroke="#000" stroke-width="2.0" />
<path d="M1220.5,589 Q1227.5,589 1227.5,595.5 Q1227.5,602 1220.5,602" fill="none" stroke="#000" stroke-width="2.6" />
<path d="M1317.5,588.5 V600 L1309.5,594.2 Z" fill="none" stroke="#000" stroke-width="2.0" />
<path d="M1306.5,587 V601.5 H1300.5" fill="none" stroke="#000" stroke-width="2.6" />
<line x1="1302.5" y1="593.5" x2="1310" y2="593.5" stroke="#000" stroke-width="2.0"/>
<path d="M1272.5,584 H1256.5 V593 H1260" fill="none" stroke="#000" stroke-width="2.6" />
<line x1="1258" y1="586.8" x2="1272" y2="586.8" stroke="#000" stroke-width="1.4"/>
<path d="M1258.6,593.5 A7.6,7.6 0 1 0 1264.6,589.2" fill="none" stroke="#000" stroke-width="2.4" />
<circle cx="1265" cy="597.2" r="3.6" fill="none" stroke="#000" stroke-width="1.8"/>
<path d="M1223.7,635.5 Q1226.5,639 1226.5,641 V645.4 M1304.3,635.5 Q1301,639 1301,641 V645.4" fill="none" stroke="#000" stroke-width="1.6" />
<rect x="1224.5" y="636.3" width="79" height="9" fill="#fff"/>
<path d="M1223.7,635.5 Q1226.5,639 1226.5,641 Q1224,643 1222,645.4 M1304.3,635.5 Q1301,639 1301,641 Q1303.5,643 1305.4,645.4" fill="none" stroke="#000" stroke-width="1.6" />
<line x1="1226.5" y1="642.6" x2="1301" y2="642.6" stroke="#000" stroke-width="1.6"/>
<rect x="1222" y="645.4" width="83.4" height="19.9" rx="0" fill="#fff" stroke="#000" stroke-width="1.8"/>
<rect x="1254.6" y="643.7" width="18.2" height="21.6" rx="0" fill="#fff" stroke="#000" stroke-width="1.8"/>
<circle cx="1263.5" cy="654.2" r="6" fill="none" stroke="#000" stroke-width="1.8"/>
<line x1="1257.8" y1="654.2" x2="1269.2" y2="654.2" stroke="#000" stroke-width="2.2"/>
<rect x="1222" y="665.3" width="83.4" height="11" rx="0" fill="#fff" stroke="#000" stroke-width="1.8"/>
<line x1="1222" y1="676" x2="1305.4" y2="676" stroke="#000" stroke-width="2.2"/>
<rect x="1222" y="676.3" width="83.4" height="9.9" rx="0" fill="#fff" stroke="#000" stroke-width="1.6"/>
<path d="M1260.4,684 L1263.5,679 L1266.6,684 Z" fill="none" stroke="#000" stroke-width="1.2" />
<path d="M1260.5,668 H1266.5 V670 L1263.5,673 L1260.5,670 Z" fill="none" stroke="#000" stroke-width="1.2" />
<circle cx="1225.8" cy="670.5" r="1.8" fill="none" stroke="#000" stroke-width="1.4"/>
<circle cx="1229.3" cy="671.5" r="1.8" fill="none" stroke="#000" stroke-width="1.4"/>
<path d="M1222,686.2 V723 Q1222,728.2 1227,728.2 H1300.4 Q1305.4,728.2 1305.4,723 V686.2" fill="#fff" stroke="#000" stroke-width="2.0" />
<line x1="1226.5" y1="688" x2="1226.5" y2="726" stroke="#000" stroke-width="1.3"/>
<line x1="1301" y1="688" x2="1301" y2="726" stroke="#000" stroke-width="1.3"/>
<line x1="1222" y1="686.6" x2="1305.4" y2="686.6" stroke="#000" stroke-width="2.2"/>
<path d="M1257,728.5 Q1258,732.6 1263.5,732.6 Q1269,732.6 1270,728.5" fill="none" stroke="#000" stroke-width="1.4" />
<line x1="1263.5" y1="729" x2="1263.5" y2="732.4" stroke="#000" stroke-width="1"/>
<line x1="1118.4" y1="63" x2="1118.4" y2="147.7" stroke="#000" stroke-width="1.65"/>
<line x1="1409.9" y1="63" x2="1409.9" y2="147.7" stroke="#000" stroke-width="1.65"/>
<line x1="1118.4" y1="72.9" x2="1409.9" y2="72.9" stroke="#000" stroke-width="1.65"/>
<polygon points="1118.9,72.9 1136.9,69.6 1136.9,76.2" fill="#000"/>
<polygon points="1409.4,72.9 1391.4,69.6 1391.4,76.2" fill="#000"/>
<text transform="translate(1227.87,58.72) scale(0.978,1)" font-size="48.73">140</text>
<line x1="1205" y1="100.2" x2="1625.8" y2="100.2" stroke="#000" stroke-width="1.65"/>
<line x1="1241.3" y1="90.5" x2="1241.3" y2="145.7" stroke="#000" stroke-width="1.65"/>
<line x1="1285.5" y1="90.5" x2="1285.5" y2="145.7" stroke="#000" stroke-width="1.65"/>
<polygon points="1241.0,100.2 1223.0,96.9 1223.0,103.5" fill="#000"/>
<polygon points="1285.8,100.2 1303.8,96.9 1303.8,103.5" fill="#000"/>
<text transform="translate(1445.42,84.16) scale(1.104,1)" font-size="44.66">G1/2</text>
<text transform="translate(1556.88,84.29) scale(1.016,1)" font-size="31.64">OUT</text>
<line x1="1444.4" y1="130.3" x2="1601.5" y2="130.3" stroke="#000" stroke-width="1.65"/>
<line x1="1444.3" y1="774.6" x2="1601" y2="774.6" stroke="#000" stroke-width="1.65"/>
<line x1="1591.5" y1="130.3" x2="1591.5" y2="774.6" stroke="#000" stroke-width="1.65"/>
<polygon points="1591.5,130.8 1588.2,148.8 1594.8,148.8" fill="#000"/>
<polygon points="1591.5,774.1 1588.2,756.1 1594.8,756.1" fill="#000"/>
<text transform="translate(1581.82,474.23) rotate(-90) scale(0.985,1)" font-size="48.73">310</text>
<line x1="968.6" y1="158" x2="1109.6" y2="158" stroke="#000" stroke-width="1.65"/>
<line x1="968.6" y1="748.5" x2="1107" y2="748.5" stroke="#000" stroke-width="1.65"/>
<line x1="976.6" y1="158" x2="976.6" y2="748.5" stroke="#000" stroke-width="1.65"/>
<polygon points="976.6,158.5 973.3,176.5 979.9,176.5" fill="#000"/>
<polygon points="976.6,748.0 973.3,730.0 979.9,730.0" fill="#000"/>
<text transform="translate(966.82,474.32) rotate(-90) scale(0.986,1)" font-size="48.73">280</text>
<line x1="1051" y1="573.2" x2="1165" y2="573.2" stroke="#000" stroke-width="1.65"/>
<line x1="1051" y1="616.9" x2="1165" y2="616.9" stroke="#000" stroke-width="1.65"/>
<line x1="1060" y1="362" x2="1060" y2="573.2" stroke="#000" stroke-width="1.65"/>
<polygon points="1060.0,572.7 1056.7,554.7 1063.3,554.7" fill="#000"/>
<line x1="1060" y1="616.9" x2="1060" y2="647.8" stroke="#000" stroke-width="1.65"/>
<polygon points="1060.0,617.4 1056.7,635.4 1063.3,635.4" fill="#000"/>
<text transform="translate(1046.32,552.24) rotate(-90) scale(0.984,1)" font-size="49.29">G 1/2</text>
<text transform="translate(1045.00,422.12) rotate(-90) scale(1.022,1)" font-size="31.21">HOT</text>
<line x1="1362.5" y1="573.2" x2="1513.6" y2="573.2" stroke="#000" stroke-width="1.65"/>
<line x1="1362.5" y1="616.9" x2="1513.6" y2="616.9" stroke="#000" stroke-width="1.65"/>
<line x1="1506" y1="313.4" x2="1506" y2="573.2" stroke="#000" stroke-width="1.65"/>
<polygon points="1506.0,572.7 1502.7,554.7 1509.3,554.7" fill="#000"/>
<line x1="1506" y1="616.9" x2="1506" y2="648.8" stroke="#000" stroke-width="1.65"/>
<polygon points="1506.0,617.4 1502.7,635.4 1509.3,635.4" fill="#000"/>
<text transform="translate(1497.03,528.74) rotate(-90) scale(1.006,1)" font-size="48.20">G 1/2</text>
<text transform="translate(1496.47,398.83) rotate(-90) scale(0.965,1)" font-size="33.33">COLD</text>
<line x1="1091" y1="784" x2="1091" y2="853" stroke="#000" stroke-width="1.65"/>
<line x1="1436.7" y1="784" x2="1436.7" y2="853" stroke="#000" stroke-width="1.65"/>
<line x1="1091" y1="844" x2="1436.7" y2="844" stroke="#000" stroke-width="1.65"/>
<polygon points="1091.5,844.0 1109.5,840.7 1109.5,847.3" fill="#000"/>
<polygon points="1436.2,844.0 1418.2,840.7 1418.2,847.3" fill="#000"/>
<text transform="translate(1226.06,833.75) scale(1.036,1)" font-size="46.19">160</text>
<line x1="1026.7" y1="893.3" x2="1107" y2="893.3" stroke="#000" stroke-width="1.65"/>
<line x1="1026.7" y1="1041.2" x2="1090.3" y2="1041.2" stroke="#000" stroke-width="1.65"/>
<line x1="1036.4" y1="893.3" x2="1036.4" y2="1041.2" stroke="#000" stroke-width="1.65"/>
<polygon points="1036.4,893.8 1033.1,911.8 1039.7,911.8" fill="#000"/>
<polygon points="1036.4,1040.7 1033.1,1022.7 1039.7,1022.7" fill="#000"/>
<text transform="translate(1022.34,987.26) rotate(-90) scale(1.016,1)" font-size="47.17">70</text>
<line x1="1106.5" y1="893.2" x2="1422" y2="893.2" stroke="#000" stroke-width="1.7"/>
<path d="M1106.5,893.2 V909.8 H1103.2 V1015" fill="none" stroke="#000" stroke-width="1.7" />
<path d="M1123.9,893.2 V916.4 H1106.5" fill="none" stroke="#000" stroke-width="1.7" />
<rect x="1113.2" y="901.5" width="8.2" height="14.9" rx="0" fill="none" stroke="#000" stroke-width="1.6"/>
<path d="M1115.6,916.4 V999.2 H1103.2" fill="none" stroke="#000" stroke-width="1.7" />
<path d="M1422,893.2 V910.6 H1424.5 V1015" fill="none" stroke="#000" stroke-width="1.7" />
<path d="M1403,893.2 V916.4 H1422" fill="none" stroke="#000" stroke-width="1.7" />
<rect x="1405.4" y="902.4" width="9.1" height="14" rx="0" fill="none" stroke="#000" stroke-width="1.6"/>
<path d="M1411.2,916.4 V999.2 H1424.5" fill="none" stroke="#000" stroke-width="1.7" />
<line x1="1123.9" y1="910.6" x2="1403" y2="910.6" stroke="#000" stroke-width="1.7"/>
<line x1="1138.8" y1="910.6" x2="1138.8" y2="1015" stroke="#000" stroke-width="1.7"/>
<line x1="1211.7" y1="910.6" x2="1211.7" y2="1015" stroke="#000" stroke-width="1.7"/>
<rect x="1142.1" y="914" width="64.60000000000014" height="98.5" rx="0" fill="none" stroke="#000" stroke-width="1.8"/>
<line x1="1228.2" y1="910.6" x2="1228.2" y2="1015" stroke="#000" stroke-width="1.7"/>
<line x1="1300.3" y1="910.6" x2="1300.3" y2="1015" stroke="#000" stroke-width="1.7"/>
<rect x="1231.6" y="914" width="63.700000000000045" height="98.5" rx="0" fill="none" stroke="#000" stroke-width="1.8"/>
<line x1="1316.8" y1="910.6" x2="1316.8" y2="1015" stroke="#000" stroke-width="1.7"/>
<line x1="1388" y1="910.6" x2="1388" y2="1015" stroke="#000" stroke-width="1.7"/>
<rect x="1320.2" y="914" width="63.700000000000045" height="98.5" rx="0" fill="none" stroke="#000" stroke-width="1.8"/>
<line x1="1209.2" y1="912" x2="1209.2" y2="1014" stroke="#000" stroke-width="1.2"/>
<line x1="1318.5" y1="912" x2="1318.5" y2="1014" stroke="#000" stroke-width="1.2"/>
<path d="M1230,925 Q1226.5,945 1229.5,963 Q1226.5,985 1230,1005" fill="none" stroke="#000" stroke-width="1.2" />
<path d="M1297,925 Q1300.5,945 1297.5,963 Q1300.5,985 1297,1005" fill="none" stroke="#000" stroke-width="1.2" />
<path d="M1236,912 Q1264,905 1292,912" fill="none" stroke="#000" stroke-width="1.2" />
<path d="M1091.6,1015 H1436 L1428.6,1041.5 H1099.1 Z" fill="none" stroke="#000" stroke-width="1.8" />
<line x1="1093" y1="1019.1" x2="1435" y2="1019.1" stroke="#000" stroke-width="1.5"/>
<line x1="1188.5" y1="1019.1" x2="1188.5" y2="1041.5" stroke="#000" stroke-width="1.6"/>
<line x1="1194.3" y1="1019.1" x2="1194.3" y2="1041.5" stroke="#000" stroke-width="1.6"/>
<line x1="1336.7" y1="1019.1" x2="1336.7" y2="1041.5" stroke="#000" stroke-width="1.6"/>
<line x1="1342.5" y1="1019.1" x2="1342.5" y2="1041.5" stroke="#000" stroke-width="1.6"/>
<path d="M1237.4,1041.5 V1045.5 Q1237.4,1047.2 1239.5,1047.2 H1289 Q1291.2,1047.2 1291.2,1045.5 V1041.5" fill="none" stroke="#000" stroke-width="1.6" />
<line x1="1249.8" y1="1041.5" x2="1249.8" y2="1047.2" stroke="#000" stroke-width="1.3"/>
<line x1="1277.1" y1="1041.5" x2="1277.1" y2="1047.2" stroke="#000" stroke-width="1.3"/>
</svg></body></html>
